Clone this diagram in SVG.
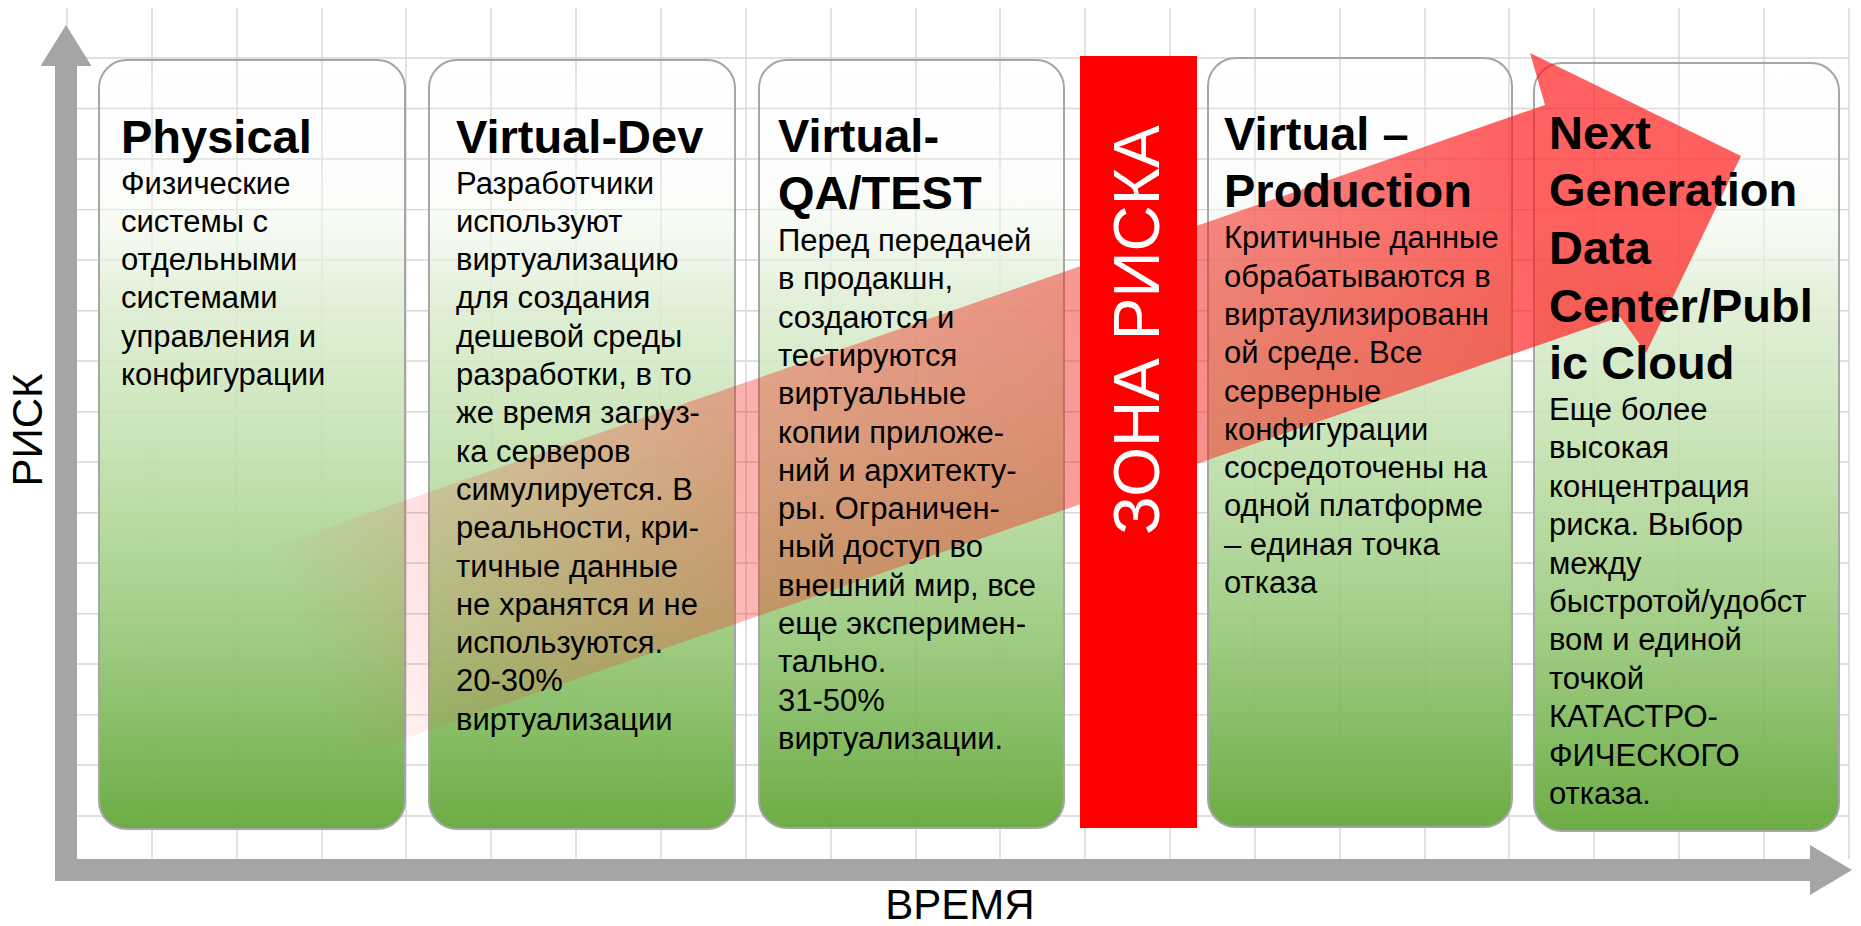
<svg xmlns="http://www.w3.org/2000/svg" width="1861" height="926" viewBox="0 0 1861 926">
  <style>
    .grid { stroke: #d6d6d6; stroke-width: 1.4; fill: none; }
    .axis { fill: #a5a5a5; }
    .box { fill: url(#boxFill); stroke: #a6a6a6; stroke-width: 2; }
    .hd { font-family: "Liberation Sans", Arial, sans-serif; font-weight: bold; font-size: 47px; fill: #000; }
    .bd { font-family: "Liberation Sans", Arial, sans-serif; font-size: 31px; fill: #000; }
    .lbl { font-family: "Liberation Sans", Arial, sans-serif; font-size: 42px; fill: #000; }
    .zone { font-family: "Liberation Sans", Arial, sans-serif; font-size: 64px; fill: #fff; }
  </style>
  <defs>
    <linearGradient id="boxFill" x1="0" y1="0" x2="0" y2="1">
      <stop offset="0" stop-color="#ffffff" stop-opacity="0"/>
      <stop offset="0.17" stop-color="#f6faf3" stop-opacity="0.4"/>
      <stop offset="0.3" stop-color="#e0efd6" stop-opacity="0.88"/>
      <stop offset="0.5" stop-color="#c2e1ae" stop-opacity="0.9"/>
      <stop offset="0.75" stop-color="#97c879" stop-opacity="0.92"/>
      <stop offset="1" stop-color="#65a83b" stop-opacity="0.95"/>
    </linearGradient>
    <linearGradient id="riskFill" gradientUnits="userSpaceOnUse" x1="305" y1="654" x2="1741" y2="156">
      <stop offset="0" stop-color="#ff2a2a" stop-opacity="0"/>
      <stop offset="0.1" stop-color="#ff2a2a" stop-opacity="0.14"/>
      <stop offset="0.3" stop-color="#f52a20" stop-opacity="0.35"/>
      <stop offset="0.55" stop-color="#f02a20" stop-opacity="0.48"/>
      <stop offset="0.85" stop-color="#ff1a1a" stop-opacity="0.68"/>
      <stop offset="1" stop-color="#ff1a1a" stop-opacity="0.7"/>
    </linearGradient>
  </defs>

  <!-- background grid -->
  <g id="grid">
    <path class="grid" d="M67 8V859 M152 8V859 M237 8V859 M322 8V859 M406 8V859 M491 8V859 M576 8V859 M661 8V859 M746 8V859 M831 8V859 M916 8V859 M1000 8V859 M1085 8V859 M1170 8V859 M1255 8V859 M1340 8V859 M1425 8V859 M1509 8V859 M1594 8V859 M1679 8V859 M1764 8V859 M1849 8V859"/>
    <path class="grid" d="M77 58H1849 M77 108.5H1849 M77 159H1849 M77 209.6H1849 M77 260H1849 M77 310.7H1849 M77 361H1849 M77 411.7H1849 M77 462H1849 M77 512.8H1849 M77 563H1849 M77 613.8H1849 M77 664H1849 M77 714.9H1849 M77 765H1849 M77 816H1849"/>
  </g>

  <!-- axes -->
  <g id="axes">
    <rect class="axis" x="55" y="65" width="22" height="816"/>
    <polygon class="axis" points="66,25 91.5,66 40.5,66"/>
    <rect class="axis" x="55" y="859" width="1756" height="22"/>
    <polygon class="axis" points="1852,870 1810,845 1810,895"/>
    <text class="lbl" transform="translate(42,430) rotate(-90)" text-anchor="middle">РИСК</text>
    <text class="lbl" x="960" y="919" text-anchor="middle">ВРЕМЯ</text>
  </g>

  <!-- stage panels -->
  <g id="panel-physical"><rect class="box" x="99" y="60" width="306" height="769" rx="28"/></g>
  <g id="panel-virtual-dev"><rect class="box" x="429" y="60" width="306" height="769" rx="28"/></g>
  <g id="panel-virtual-qa"><rect class="box" x="759" y="60" width="305" height="768" rx="28"/></g>
  <g id="panel-virtual-prod"><rect class="box" x="1208" y="58" width="304" height="769" rx="28"/></g>
  <g id="panel-next-gen"><rect class="box" x="1534" y="63" width="305" height="768" rx="28"/></g>

  <!-- rising risk arrow -->
  <g id="connectors">
    <polygon id="risk-arrow" fill="url(#riskFill)" points="268,548 1545,105 1530,53 1741,156 1646,353 1620,317 343,760"/>
  </g>

  <!-- risk zone band -->
  <g id="risk-zone">
    <rect x="1080" y="56" width="117" height="772" fill="#ff0000"/>
    <text class="zone" transform="translate(1159,330) rotate(-90)" text-anchor="middle">ЗОНА РИСКА</text>
  </g>

  <!-- panel texts -->
  <g id="text-physical">
    <text class="hd" x="121" y="153">Physical</text>
    <text class="bd">
      <tspan x="121" y="193.5">Физические</tspan>
      <tspan x="121" y="231.8">системы с</tspan>
      <tspan x="121" y="270.1">отдельными</tspan>
      <tspan x="121" y="308.4">системами</tspan>
      <tspan x="121" y="346.7">управления и</tspan>
      <tspan x="121" y="385">конфигурации</tspan>
    </text>
  </g>

  <g id="text-virtual-dev">
    <text class="hd" x="456" y="153">Virtual-Dev</text>
    <text class="bd">
      <tspan x="456" y="193.5">Разработчики</tspan>
      <tspan x="456" y="231.8">используют</tspan>
      <tspan x="456" y="270.1">виртуализацию</tspan>
      <tspan x="456" y="308.4">для создания</tspan>
      <tspan x="456" y="346.7">дешевой среды</tspan>
      <tspan x="456" y="385">разработки, в то</tspan>
      <tspan x="456" y="423.3">же время загруз-</tspan>
      <tspan x="456" y="461.6">ка серверов</tspan>
      <tspan x="456" y="499.9">симулируется. В</tspan>
      <tspan x="456" y="538.2">реальности, кри-</tspan>
      <tspan x="456" y="576.5">тичные данные</tspan>
      <tspan x="456" y="614.8">не хранятся и не</tspan>
      <tspan x="456" y="653.1">используются.</tspan>
      <tspan x="456" y="691.4">20-30%</tspan>
      <tspan x="456" y="729.7">виртуализации</tspan>
    </text>
  </g>

  <g id="text-virtual-qa">
    <text class="hd">
      <tspan x="778" y="152">Virtual-</tspan>
      <tspan x="778" y="209">QA/TEST</tspan>
    </text>
    <text class="bd">
      <tspan x="778" y="251">Перед передачей</tspan>
      <tspan x="778" y="289.3">в продакшн,</tspan>
      <tspan x="778" y="327.6">создаются и</tspan>
      <tspan x="778" y="365.9">тестируются</tspan>
      <tspan x="778" y="404.2">виртуальные</tspan>
      <tspan x="778" y="442.5">копии приложе-</tspan>
      <tspan x="778" y="480.8">ний и архитекту-</tspan>
      <tspan x="778" y="519.1">ры. Ограничен-</tspan>
      <tspan x="778" y="557.4">ный доступ во</tspan>
      <tspan x="778" y="595.7">внешний мир, все</tspan>
      <tspan x="778" y="634">еще эксперимен-</tspan>
      <tspan x="778" y="672.3">тально.</tspan>
      <tspan x="778" y="710.6">31-50%</tspan>
      <tspan x="778" y="748.9">виртуализации.</tspan>
    </text>
  </g>

  <g id="text-virtual-prod">
    <text class="hd">
      <tspan x="1224" y="150">Virtual –</tspan>
      <tspan x="1224" y="207">Production</tspan>
    </text>
    <text class="bd">
      <tspan x="1224" y="248.3">Критичные данные</tspan>
      <tspan x="1224" y="286.6">обрабатываются в</tspan>
      <tspan x="1224" y="324.9">виртаулизированн</tspan>
      <tspan x="1224" y="363.2">ой среде. Все</tspan>
      <tspan x="1224" y="401.5">серверные</tspan>
      <tspan x="1224" y="439.8">конфигурации</tspan>
      <tspan x="1224" y="478.1">сосредоточены на</tspan>
      <tspan x="1224" y="516.4">одной платформе</tspan>
      <tspan x="1224" y="554.7">– единая точка</tspan>
      <tspan x="1224" y="593">отказа</tspan>
    </text>
  </g>

  <g id="text-next-gen">
    <text class="hd">
      <tspan x="1549" y="148.5">Next</tspan>
      <tspan x="1549" y="206.2">Generation</tspan>
      <tspan x="1549" y="263.9">Data</tspan>
      <tspan x="1549" y="321.6">Center/Publ</tspan>
      <tspan x="1549" y="379.3">ic Cloud</tspan>
    </text>
    <text class="bd">
      <tspan x="1549" y="420">Еще более</tspan>
      <tspan x="1549" y="458.4">высокая</tspan>
      <tspan x="1549" y="496.8">концентрация</tspan>
      <tspan x="1549" y="535.2">риска. Выбор</tspan>
      <tspan x="1549" y="573.6">между</tspan>
      <tspan x="1549" y="612">быстротой/удобст</tspan>
      <tspan x="1549" y="650.4">вом и единой</tspan>
      <tspan x="1549" y="688.8">точкой</tspan>
      <tspan x="1549" y="727.2">КАТАСТРО-</tspan>
      <tspan x="1549" y="765.6">ФИЧЕСКОГО</tspan>
      <tspan x="1549" y="804">отказа.</tspan>
    </text>
  </g>
</svg>
